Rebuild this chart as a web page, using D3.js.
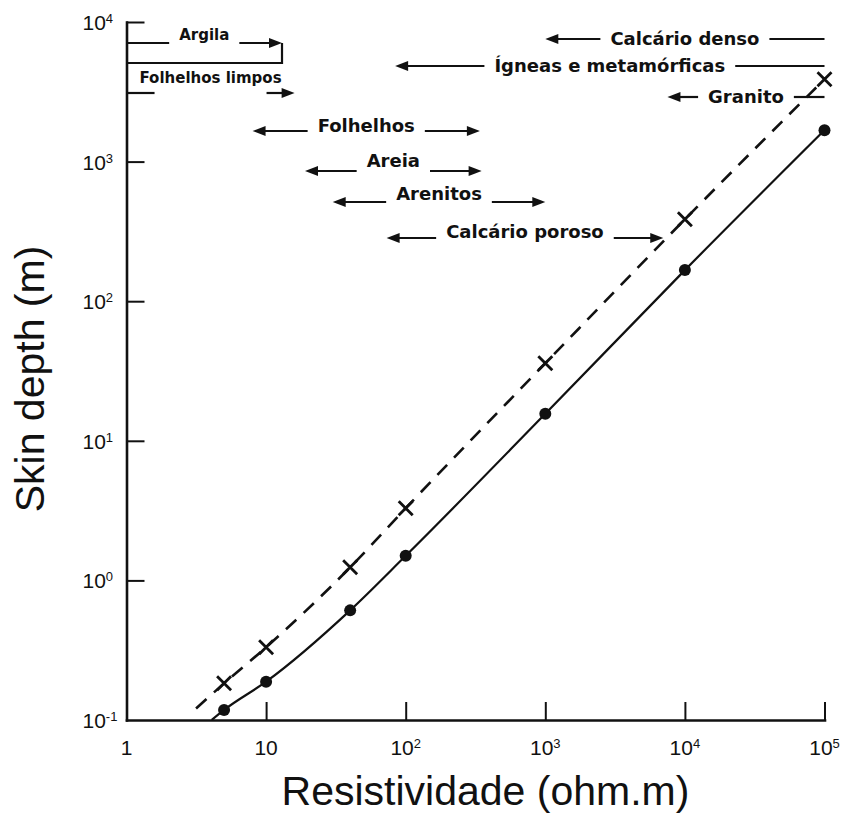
<!DOCTYPE html>
<html>
<head>
<meta charset="utf-8">
<script src="https://cdn.jsdelivr.net/npm/d3@7"></script>
<style>
  body { margin: 0; background: #fff; }
  svg { display: block; }
  .axis path, .axis line { stroke: #111; }
</style>
</head>
<body>
<script>
// skin depth vs resistivity, log-log
const resist = [5, 10, 40, 100, 1e3, 1e4, 1e5];
const depthSolid = [0.118, 0.188, 0.61, 1.5, 15.6, 167, 1680];
const depthDashed = [0.183, 0.332, 1.24, 3.29, 35.9, 386, 3890];
// where each curve comes out of the lower left of the frame
const solidStart = [4.08, 0.1];
const dashedStart = [3.15, 0.121];

const xTicks = [1, 10, 100, 1e3, 1e4, 1e5];
const yTicks = [0.1, 1, 10, 100, 1e3, 1e4];

// resistivity ranges of the rocks (ohm.m)
const rockNames = ["Argila", "Folhelhos limpos", "Folhelhos", "Areia", "Arenitos",
                   "Calcário poroso", "Calcário denso", "Ígneas e metamórficas", "Granito"];
const rockMin = [1, 1, 8, 19, 30, 73, 1000, 84, 7500];
const rockMax = [13, 16, 340, 350, 1000, 7000, 1e5, 1e5, 1e5];

// layout for the range labels (pixel rows, text offset, font size, gap)
const annotLayout = [
  { y: 43, dy: -8, size: 15 },
  { y: 93, dy: -15, size: 15, gap: 56 },
  { y: 131, dy: -5, size: 18 },
  { y: 171, dy: -10, size: 18 },
  { y: 202, dy: -8, size: 18 },
  { y: 238, dy: -6, size: 18 },
  { y: 39, dy: 0, size: 18 },
  { y: 66, dy: 0, size: 18 },
  { y: 97, dy: 0, size: 18 }
];

const width = 843, height = 813;
const margin = { top: 22, right: 18.5, bottom: 93, left: 126.5 };

const svg = d3.select("body").append("svg")
  .attr("width", width)
  .attr("height", height);

svg.append("rect").attr("width", width).attr("height", height).attr("fill", "#fff");

const x = d3.scaleLog().domain([1, 1e5]).range([margin.left, width - margin.right]);
const y = d3.scaleLog().domain([0.1, 1e4]).range([height - margin.bottom, margin.top]);

// axes (ticks point inward, no labels: labels drawn below with superscripts)
const g_xaxis = svg.append("g").attr("class", "axis")
  .attr("transform", `translate(0,${y(0.1)})`)
  .call(d3.axisBottom(x).tickValues(xTicks.slice(1)).tickSize(-18).tickSizeOuter(0).tickFormat(""));
const g_yaxis = svg.append("g").attr("class", "axis")
  .attr("transform", `translate(${x(1)},0)`)
  .call(d3.axisLeft(y).tickValues(yTicks.slice(1)).tickSize(-18).tickSizeOuter(0).tickFormat(""));

svg.selectAll(".axis path").attr("stroke-width", 2.6).attr("stroke-linecap", "square");
svg.selectAll(".axis line").attr("stroke-width", 2);

const labelFont = "'Liberation Sans Narrow', 'Liberation Sans', Arial, sans-serif";

function powerLabel(sel, d) {
  const e = Math.round(Math.log10(d));
  if (e === 0 && d === 1 && sel.classed("xlab")) { sel.text("1"); return; }
  if (e === 1 && sel.classed("xlab")) { sel.text("10"); return; }
  sel.append("tspan").text("10");
  sel.append("tspan").attr("font-size", 13).attr("dy", -7).text(e);
}

svg.append("g").selectAll("text").data(xTicks).join("text")
  .attr("class", "xlab")
  .attr("x", d => x(d))
  .attr("y", y(0.1) + 35)
  .attr("text-anchor", "middle")
  .attr("font-family", labelFont)
  .attr("font-size", 21)
  .attr("fill", "#111")
  .each(function (d) { powerLabel(d3.select(this), d); });

svg.append("g").selectAll("text").data(yTicks).join("text")
  .attr("class", "ylab")
  .attr("x", x(1) - 44)
  .attr("y", d => y(d) + 8)
  .attr("font-family", labelFont)
  .attr("font-size", 21)
  .attr("fill", "#111")
  .each(function (d) { powerLabel(d3.select(this), d); });

// axis titles
svg.append("text")
  .attr("transform", `translate(44,${(y(0.1) + y(1e4)) / 2 + 8}) rotate(-90)`)
  .attr("text-anchor", "middle")
  .attr("font-family", "'Liberation Sans', Arial, sans-serif")
  .attr("font-size", 41)
  .attr("fill", "#111")
  .text("Skin depth (m)");

svg.append("text")
  .attr("x", (x(1) + x(1e5)) / 2 + 10)
  .attr("y", 805)
  .attr("text-anchor", "middle")
  .attr("font-family", "'Liberation Sans', Arial, sans-serif")
  .attr("font-size", 41)
  .attr("fill", "#111")
  .text("Resistividade (ohm.m)");

// curves
const line = d3.line()
  .x(d => x(d[0]))
  .y(d => y(d[1]))
  .curve(d3.curveMonotoneX);

const solidPts = [solidStart].concat(resist.map((r, i) => [r, depthSolid[i]]));
const dashedPts = [dashedStart].concat(resist.map((r, i) => [r, depthDashed[i]]));

svg.append("path").datum(solidPts)
  .attr("d", line).attr("fill", "none").attr("stroke", "#111").attr("stroke-width", 2.2);

svg.append("path").datum(dashedPts)
  .attr("d", line).attr("fill", "none").attr("stroke", "#111").attr("stroke-width", 2.6)
  .attr("stroke-dasharray", "14,10");

svg.append("g").selectAll("circle").data(resist).join("circle")
  .attr("cx", d => x(d))
  .attr("cy", (d, i) => y(depthSolid[i]))
  .attr("r", 6)
  .attr("fill", "#111");

const k = 7;
svg.append("g").selectAll("path").data(resist).join("path")
  .attr("d", (d, i) => {
    const cx = x(d), cy = y(depthDashed[i]);
    return `M${cx - k},${cy - k}L${cx + k},${cy + k}M${cx - k},${cy + k}L${cx + k},${cy - k}`;
  })
  .attr("stroke", "#111")
  .attr("stroke-width", 2.8)
  .attr("fill", "none");

// rock resistivity ranges
const ann = svg.append("g");

function arrowHead(tx, ty, dir) {
  // dir = -1 points left, +1 points right
  ann.append("path")
    .attr("d", `M${tx},${ty}L${tx - dir * 13},${ty - 5}L${tx - dir * 13},${ty + 5}Z`)
    .attr("fill", "#111");
}

function seg(x1, x2, yy) {
  ann.append("line")
    .attr("x1", x1).attr("x2", x2).attr("y1", yy).attr("y2", yy)
    .attr("stroke", "#111").attr("stroke-width", 2.2);
}

rockNames.forEach((name, i) => {
  const lay = annotLayout[i];
  const mid = x(Math.sqrt(rockMin[i] * rockMax[i]));
  const txt = ann.append("text")
    .attr("x", mid)
    .attr("y", lay.y + lay.dy)
    .attr("dy", "0.36em")
    .attr("text-anchor", "middle")
    .attr("font-family", "'DejaVu Sans', sans-serif")
    .attr("font-weight", "bold")
    .attr("font-size", lay.size)
    .attr("fill", "#111")
    .text(name);
  const half = lay.gap !== undefined ? lay.gap : txt.node().getComputedTextLength() / 2 + 10;
  const xl = x(rockMin[i]), xr = x(rockMax[i]);
  const leftArrow = rockMin[i] > 1, rightArrow = rockMax[i] < 1e5;
  seg(leftArrow ? xl + 10 : xl, mid - half, lay.y);
  seg(mid + half, rightArrow ? xr - 10 : xr, lay.y);
  if (leftArrow) arrowHead(xl, lay.y, -1);
  if (rightArrow) arrowHead(xr, lay.y, 1);
});

// bracket closing the clay range
ann.append("path")
  .attr("d", `M${x(rockMax[0])},${annotLayout[0].y}V63H${x(1)}`)
  .attr("fill", "none")
  .attr("stroke", "#111")
  .attr("stroke-width", 2.2);
</script>
</body>
</html>
